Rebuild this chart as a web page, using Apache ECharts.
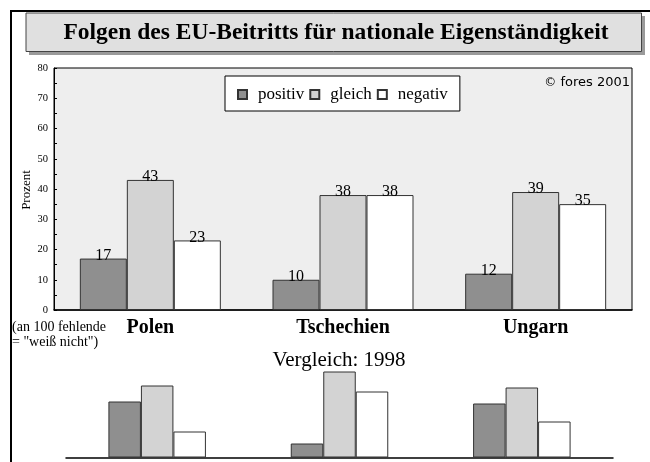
<!DOCTYPE html>
<html>
<head>
<meta charset="utf-8">
<script src="https://cdn.jsdelivr.net/npm/echarts@6/dist/echarts.min.js"></script>
<style>
  html, body { margin: 0; padding: 0; background: #fff; }
  #chart { width: 650px; height: 462px; }
</style>
</head>
<body>
<div id="chart"></div>
<script>
const countries = ['Polen', 'Tschechien', 'Ungarn'];
const answers = ['positiv', 'gleich', 'negativ'];

// Umfrage 2001 (Prozent)
const positiv2001 = [17, 10, 12];
const gleich2001 = [43, 38, 39];
const negativ2001 = [23, 38, 35];

// Vergleich 1998 (ohne Beschriftung, geschaetzt)
const positiv1998 = [28, 7, 27];
const gleich1998 = [36, 43, 35];
const negativ1998 = [13, 33, 18];

const serif = '"Liberation Serif", "Times New Roman", serif';
const fills = { positiv: '#8f8f8f', gleich: '#d3d3d3', negativ: '#ffffff' };

const chart = echarts.init(document.getElementById('chart'));

function mainSeries(name, data) {
  return {
    name: name,
    type: 'bar',
    data: data,
    barWidth: 47,
    barGap: '0%',
    itemStyle: { color: fills[name], borderColor: '#333', borderWidth: 1 },
    label: {
      show: true,
      position: 'top',
      distance: -5,
      color: '#000',
      fontFamily: serif,
      fontSize: 16,
    },
  };
}

function compareSeries(name, data) {
  return {
    name: name,
    type: 'bar',
    xAxisIndex: 1,
    yAxisIndex: 1,
    data: data,
    barWidth: 32.5,
    barGap: '0%',
    itemStyle: { color: fills[name], borderColor: '#333', borderWidth: 1 },
  };
}

const option = {
  animation: false,
  backgroundColor: '#fff',
  textStyle: { fontFamily: serif },
  grid: [
    {
      left: 54, right: 18, top: 68, bottom: 152,
      show: true, backgroundColor: '#eeeeee', borderColor: '#000', borderWidth: 1,
    },
    { left: 66, right: 37, top: 357.5, bottom: 4.5 },
  ],
  legend: {
    data: answers,
    left: 225,
    top: 76,
    orient: 'horizontal',
    icon: 'rect',
    itemWidth: 9,
    itemHeight: 9,
    itemGap: 5,
    padding: [7, 12, 5, 12],
    backgroundColor: '#fff',
    borderColor: '#000',
    borderWidth: 1,
    borderRadius: 0,
    textStyle: {
      fontFamily: serif,
      fontSize: 17,
      lineHeight: 20,
      color: '#000',
      padding: [3, 0, 0, 6],
    },
  },
  xAxis: [
    {
      type: 'category',
      gridIndex: 0,
      data: countries,
      axisTick: { show: false },
      axisLine: { lineStyle: { color: '#000', width: 1.5 } },
      axisLabel: {
        margin: 8,
        color: '#000',
        fontFamily: serif,
        fontSize: 20,
        fontWeight: 'bold',
      },
    },
    {
      type: 'category',
      gridIndex: 1,
      data: countries,
      axisTick: { show: false },
      axisLabel: { show: false },
      axisLine: { lineStyle: { color: '#000', width: 1.5 } },
    },
  ],
  yAxis: [
    {
      type: 'value',
      gridIndex: 0,
      min: 0,
      max: 80,
      interval: 10,
      splitLine: { show: false },
      axisLine: { show: true, lineStyle: { color: '#000' } },
      axisTick: { show: true, inside: true, length: 3, lineStyle: { color: '#000' } },
      minorTick: { show: true, splitNumber: 2, length: 3, lineStyle: { color: '#000' } },
      axisLabel: {
        margin: 6,
        color: '#000',
        fontFamily: serif,
        fontSize: 10.5,
        padding: [5, 0, 0, 0],
      },
    },
    {
      type: 'value',
      gridIndex: 1,
      min: 0,
      max: 50,
      show: false,
    },
  ],
  graphic: [
    // Rahmen links/oben
    {
      type: 'polyline',
      shape: { points: [[11, 462], [11, 11], [650, 11]] },
      style: { stroke: '#000', lineWidth: 2, fill: null },
    },
    // Titelkasten mit Schatten
    {
      type: 'rect',
      shape: { x: 29, y: 16, width: 616, height: 39 },
      style: { fill: '#9a9a9a' },
    },
    {
      type: 'rect',
      shape: { x: 26, y: 13, width: 615.5, height: 38.5 },
      style: { fill: '#e0e0e0', stroke: '#444', lineWidth: 1 },
    },
    {
      type: 'text',
      x: 336, y: 33,
      style: {
        text: 'Folgen des EU-Beitritts für nationale Eigenständigkeit',
        font: 'bold 23.5px ' + serif,
        fill: '#000', textAlign: 'center', textVerticalAlign: 'middle',
      },
    },
    {
      type: 'text',
      x: 630, y: 83,
      style: {
        text: '{c|©} fores 2001',
        textAlign: 'right', textVerticalAlign: 'middle',
        font: '13px "DejaVu Sans", sans-serif',
        fill: '#000',
        rich: { c: { fontSize: 12, fontFamily: '"DejaVu Sans", sans-serif' } },
      },
    },
    {
      type: 'text',
      x: 27, y: 190,
      rotation: Math.PI / 2,
      style: {
        text: 'Prozent',
        font: '13px ' + serif,
        fill: '#000', textAlign: 'center', textVerticalAlign: 'middle',
      },
    },
    {
      type: 'text',
      x: 12, y: 335,
      style: {
        text: '(an 100 fehlende\n= "weiß nicht")',
        font: '14px ' + serif,
        lineHeight: 15,
        fill: '#000', textAlign: 'left', textVerticalAlign: 'middle',
      },
    },
    {
      type: 'text',
      x: 339, y: 360,
      style: {
        text: 'Vergleich: 1998',
        font: '21px ' + serif,
        fill: '#000', textAlign: 'center', textVerticalAlign: 'middle',
      },
    },
  ],
  series: [
    mainSeries('positiv', positiv2001),
    mainSeries('gleich', gleich2001),
    mainSeries('negativ', negativ2001),
    compareSeries('positiv', positiv1998),
    compareSeries('gleich', gleich1998),
    compareSeries('negativ', negativ1998),
  ],
};

chart.setOption(option);
</script>
</body>
</html>
